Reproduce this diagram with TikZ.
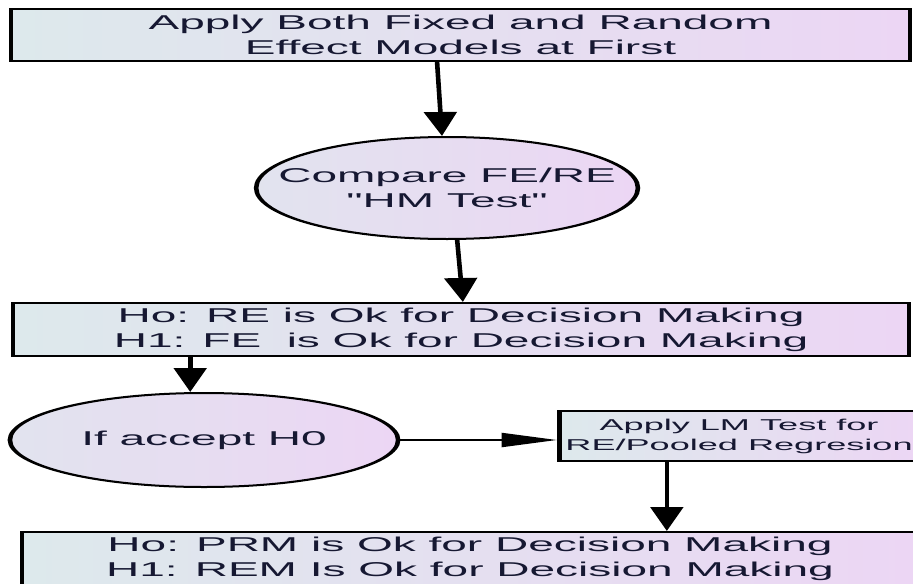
\documentclass[tikz,border=0pt]{standalone}
\usepackage{fontspec}
\setmainfont{Liberation Sans}
\usetikzlibrary{shapes.geometric,arrows.meta}

\definecolor{inkblue}{RGB}{22,24,50}
\definecolor{shadeleft}{RGB}{221,233,236}
\definecolor{shaderight}{RGB}{236,214,244}

\begin{document}
\begin{tikzpicture}
	[x=0.5pt, y=-0.5pt,
		box/.style		={rectangle, draw=black, line width=1pt,
									left color=shadeleft, right color=shaderight,
									text=inkblue, align=center, inner sep=0pt,
									font=\fontsize{10}{12.5}\selectfont},
		smallbox/.style	={box, font=\fontsize{7.85}{10}\selectfont},
		oval/.style		={ellipse, draw=black, line width=1pt,
									left color=shadeleft!70!shaderight, right color=shaderight,
									text=inkblue, align=center, inner sep=0pt,
									font=\fontsize{10}{12.5}\selectfont},
		line/.style		={draw, line width=1pt, -{Triangle[length=12pt,width=7pt]}}
	]
\useasboundingbox (0,0) rectangle (913,583);
\clip (0,0) rectangle (913,583);
% the whole chart is stretched sideways
\begin{scope}[transform canvas={xscale=2.3}, x=0.2174pt]
		% row 1
			\node [box, minimum width=195.4pt, minimum height=26pt] (apply both) at (460.5,35)
				{Apply Both Fixed and Random\\Effect Models at First};
		% row 2
			\node [oval, minimum width=83pt, minimum height=51pt, inner xsep=-8pt] (hm test) at (447,188)
				{Compare FE/RE\\\textquotedbl HM Test\textquotedbl};
		% row 3
			\node [box, minimum width=194.8pt, minimum height=26.5pt] (hypotheses 1) at (461,329.5)
				{Ho: RE is Ok for Decision Making\\H1: FE\ \ is Ok for Decision Making};
		% row 4
			\node [oval, minimum width=84.4pt, minimum height=47pt] (accept h0) at (204,440)
				{If accept H0};
			\node [smallbox, minimum width=78.2pt, minimum height=25pt] (lm test) at (739,436)
				{Apply LM Test for\\RE/Pooled Regresion};
		% row 5
			\node [box, minimum width=194.8pt, minimum height=26.5pt] (hypotheses 2) at (470,558.5)
				{Ho: PRM is Ok for Decision Making\\H1: REM Is Ok for Decision Making};

	\coordinate (drop h0) at ([xshift=-3pt]accept h0.north);
	\coordinate (drop lm) at ([xshift=-15.7pt]lm test.south);

\begin{scope}[every path/.style=line]

	\path					([xshift=-5.1pt]apply both.south)	-- ([xshift=-1.1pt]hm test.north);
	\path					([xshift=2.2pt]hm test.south)		-- ([xshift=0.4pt]hypotheses 1.north);

	\path					(drop h0 |- hypotheses 1.south)	-- (drop h0);
	\path					(accept h0.east)	-- (accept h0.east -| lm test.west);

	\path					(drop lm)	-- (drop lm |- hypotheses 2.north);
\end{scope}
\end{scope}
\end{tikzpicture}
\end{document}
